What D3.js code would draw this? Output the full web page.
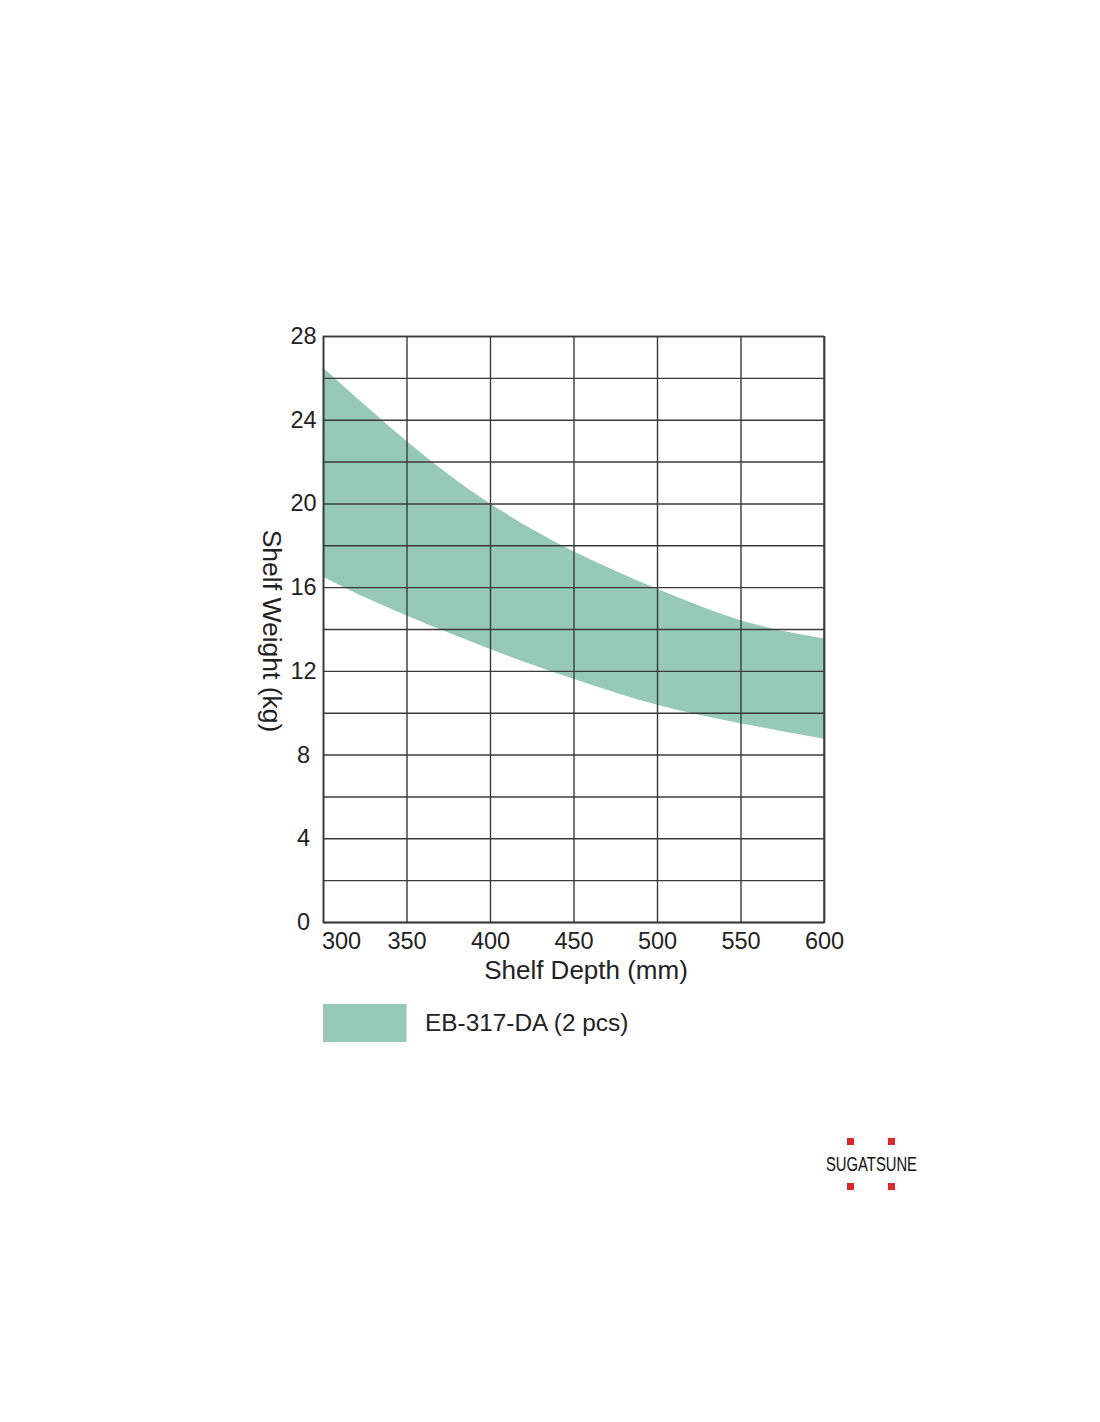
<!DOCTYPE html>
<html>
<head>
<meta charset="utf-8">
<script src="https://cdn.jsdelivr.net/npm/d3@7"></script>
<style>
  body { margin: 0; background: #fff; }
  svg text { font-family: "Liberation Sans", Arial, Helvetica, sans-serif; fill: #222; }
</style>
</head>
<body>
<div id="chart"></div>
<script>
// shelf depth (mm) and the load band
var depths = [300, 325, 350, 375, 400, 425, 450, 475, 500, 525, 550, 575, 600];
var upperKg = [26.5, 24.7, 22.98, 21.4, 20.0, 18.78, 17.72, 16.78, 15.92, 15.12, 14.42, 13.92, 13.55];
var lowerKg = [16.5, 15.52, 14.65, 13.83, 13.05, 12.3, 11.62, 10.97, 10.38, 9.9, 9.5, 9.12, 8.76];

var xTicks = [300, 350, 400, 450, 500, 550, 600];
var yLabelTicks = [0, 4, 8, 12, 16, 20, 24, 28];
var yGridTicks = [0, 2, 4, 6, 8, 10, 12, 14, 16, 18, 20, 22, 24, 26, 28];
var seriesName = "EB-317-DA (2 pcs)";

var W = 1100, H = 1422;
var margin = { top: 336, left: 323, right: 276, bottom: 500 };
var width = W - margin.left - margin.right;   // 501
var height = H - margin.top - margin.bottom;  // 586

var bandColor = "#96c9b7";
var gridColor = "#3a3a3a";

var svg = d3.select("#chart").append("svg")
    .attr("width", W)
    .attr("height", H);

var g = svg.append("g")
    .attr("transform", "translate(" + margin.left + "," + margin.top + ")");

var x = d3.scaleLinear().domain([300, 600]).range([0, width]);
var y = d3.scaleLinear().domain([0, 28]).range([height, 0]);

var rows = depths.map(function(d, i) {
  return { depth: d, hi: upperKg[i], lo: lowerKg[i] };
});

// the shaded band
var band = d3.area()
    .x(function(d) { return x(d.depth); })
    .y0(function(d) { return y(d.lo); })
    .y1(function(d) { return y(d.hi); })
    .curve(d3.curveNatural);

g.append("path")
    .datum(rows)
    .attr("d", band)
    .attr("fill", bandColor);

// grid drawn on top of the band
var vGrid = g.append("g")
    .attr("transform", "translate(0," + height + ")")
    .call(d3.axisBottom(x).tickValues(xTicks).tickSize(-height).tickFormat(""));
var hGrid = g.append("g")
    .call(d3.axisLeft(y).tickValues(yGridTicks).tickSize(-width).tickFormat(""));
g.append("line")
    .attr("x1", width).attr("x2", width)
    .attr("y1", 0).attr("y2", height)
    .attr("stroke", gridColor).attr("stroke-width", 1.4);

[vGrid, hGrid].forEach(function(ax) {
  ax.select(".domain").attr("stroke", gridColor).attr("stroke-width", 1.4);
  ax.selectAll(".tick line").attr("stroke", gridColor).attr("stroke-width", 1.4);
});

// tick labels
var xLab = g.append("g")
    .attr("transform", "translate(0," + height + ")")
    .call(d3.axisBottom(x).tickValues(xTicks).tickSize(0).tickPadding(0));
xLab.select(".domain").remove();
xLab.selectAll("text")
    .attr("font-size", "23.5px")
    .attr("dy", null)
    .attr("y", 27)
    .attr("fill", "#222")
    .attr("dx", function(d) { return d === 300 ? 18 : 0; });

// y labels are centred in a column left of the frame
var yLab = g.append("g")
    .call(d3.axisLeft(y).tickValues(yLabelTicks).tickSize(0).tickPadding(0));
yLab.select(".domain").remove();
yLab.selectAll("text")
    .attr("x", -19.5)
    .attr("text-anchor", "middle")
    .attr("font-size", "23.5px")
    .attr("fill", "#222");

// axis titles
g.append("text")
    .attr("x", 263)
    .attr("y", height + 57)
    .attr("text-anchor", "middle")
    .attr("font-size", "26px")
    .text("Shelf Depth (mm)");

g.append("text")
    .attr("transform", "translate(" + (-60) + "," + (y(14) + 2) + ") rotate(90)")
    .attr("text-anchor", "middle")
    .attr("font-size", "26.5px")
    .text("Shelf Weight (kg)");

// legend
var legend = g.append("g")
    .attr("transform", "translate(0," + (height + 82) + ")");
legend.append("rect")
    .attr("x", 0)
    .attr("y", 0)
    .attr("width", x(350) - x(300))
    .attr("height", 38)
    .attr("fill", bandColor);
legend.append("text")
    .attr("x", 102)
    .attr("y", 27)
    .attr("font-size", "24.4px")
    .text(seriesName);

// logo
var logo = svg.append("g").attr("transform", "translate(826,1138)");
[[21, 0], [62, 0], [21, 45], [62, 45]].forEach(function(p) {
  logo.append("rect")
      .attr("x", p[0]).attr("y", p[1])
      .attr("width", 7).attr("height", 7)
      .attr("fill", "#d8282a");
});
logo.append("text")
    .attr("x", 0)
    .attr("y", 33)
    .attr("font-size", "21px")
    .attr("textLength", 91)
    .attr("lengthAdjust", "spacingAndGlyphs")
    .style("fill", "#111")
    .text("SUGATSUNE");
</script>
</body>
</html>
